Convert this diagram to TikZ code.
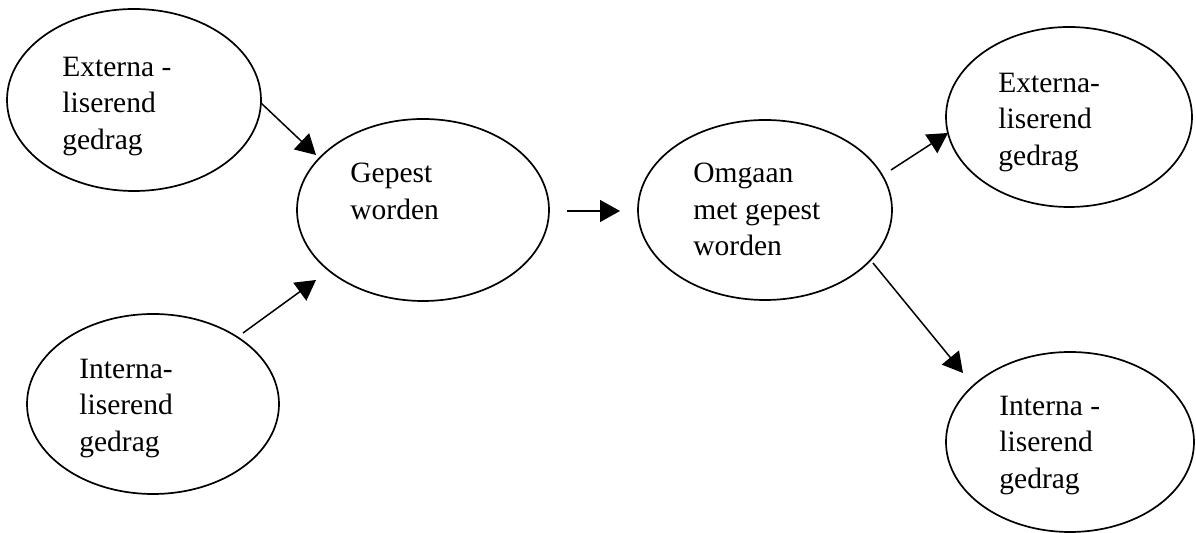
\documentclass[tikz,border=0pt]{standalone}
\usepackage{fontspec}
\setmainfont{Liberation Serif}
\usetikzlibrary{arrows.meta,shapes.geometric}
\begin{document}
\begin{tikzpicture}[x=0.5pt,y=-0.5pt,
  blob/.style={draw=black, line width=0.85pt, ellipse, inner sep=0pt},
  lbl/.style={anchor=north west, inner sep=0pt, align=left,
    font=\fontsize{14.75pt}{18.35pt}\selectfont},
  conn/.style={draw=black, line width=0.75pt, -{Triangle[length=10pt,width=11pt]}}]
\useasboundingbox (0,0) rectangle (1196,533);
% ellipses
\node[blob, minimum width=254pt*0.5, minimum height=182pt*0.5] (extL) at (134,100) {};
\node[blob, minimum width=252pt*0.5, minimum height=180pt*0.5] (intL) at (153,404) {};
\node[blob, minimum width=252pt*0.5, minimum height=182pt*0.5] (gepest) at (423,210) {};
\node[blob, minimum width=254pt*0.5, minimum height=180pt*0.5] (omgaan) at (765,210) {};
\node[blob, minimum width=246pt*0.5, minimum height=180pt*0.5] (extR) at (1069,117) {};
\node[blob, minimum width=248pt*0.5, minimum height=180pt*0.5] (intR) at (1070,442) {};
% texts
\node[lbl] (textL) at (62,56.5) {Externa -\\liserend\\gedrag};
\node[lbl] (tintL) at (79,358.5) {Interna-\\liserend\\gedrag};
\node[lbl] (tgep) at (350,162.5) {Gepest\\worden};
\node[lbl] (tomg) at (693,162.5) {Omgaan\\met gepest\\worden};
\node[lbl] (textR) at (998,72.5) {Externa-\\liserend\\gedrag};
\node[lbl] (tintR) at (999,395.5) {Interna -\\liserend\\gedrag};
% connector ends
\coordinate (a1s) at (261,103); \coordinate (a1e) at (316,155);
\coordinate (a2s) at (243,333); \coordinate (a2e) at (316,280);
\coordinate (a3s) at (567,211); \coordinate (a3e) at (620,211);
\coordinate (a4s) at (891,170); \coordinate (a4e) at (948,133);
\coordinate (a5s) at (873,263); \coordinate (a5e) at (963,373);
\draw[conn] (a1s) -- (a1e);
\draw[conn] (a2s) -- (a2e);
\draw[conn] (a3s) -- (a3e);
\draw[conn] (a4s) -- (a4e);
\draw[conn] (a5s) -- (a5e);
\end{tikzpicture}
\end{document}
